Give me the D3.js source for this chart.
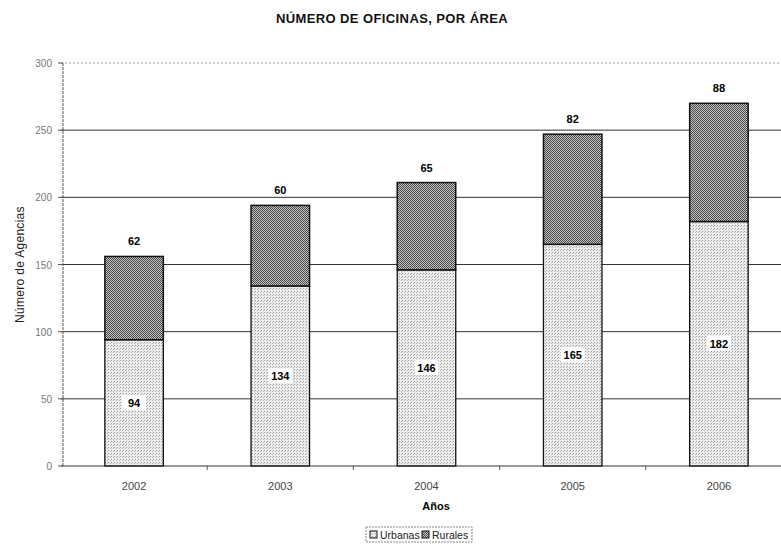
<!DOCTYPE html>
<html>
<head>
<meta charset="utf-8">
<script src="https://cdn.jsdelivr.net/npm/d3@7"></script>
<style>
  body { margin: 0; background: #fff; }
  text { font-family: "Liberation Sans", Arial, sans-serif; }
</style>
</head>
<body>
<div id="chart"></div>
<script>
let years = ["2002", "2003", "2004", "2005", "2006"];
let urbanas = [94, 134, 146, 165, 182];
let rurales = [62, 60, 65, 82, 88];
let yTicks = [0, 50, 100, 150, 200, 250, 300];

let w = 781, h = 545;
let plotLeft = 61, plotRight = 792, plotTop = 63, plotBottom = 466;

let svg = d3.select("#chart").append("svg")
    .attr("width", w)
    .attr("height", h);

// dithered fills like the scanned original
let defs = svg.append("defs");
let pr = defs.append("pattern").attr("id", "rur")
    .attr("width", 2).attr("height", 2).attr("patternUnits", "userSpaceOnUse");
pr.append("rect").attr("width", 2).attr("height", 2).attr("fill", "#c8c8c8");
pr.append("rect").attr("width", 1).attr("height", 1).attr("fill", "#444");
pr.append("rect").attr("x", 1).attr("y", 1).attr("width", 1).attr("height", 1).attr("fill", "#444");
let pu = defs.append("pattern").attr("id", "urb")
    .attr("width", 3).attr("height", 3).attr("patternUnits", "userSpaceOnUse");
pu.append("rect").attr("width", 3).attr("height", 3).attr("fill", "#eeeeee");
pu.append("rect").attr("width", 1).attr("height", 1).attr("fill", "#9a9a9a");
pu.append("rect").attr("x", 2).attr("y", 1).attr("width", 1).attr("height", 1).attr("fill", "#b5b5b5");

let xScale = d3.scaleBand()
    .domain(years)
    .range([plotLeft, plotRight])
    .paddingInner(0.6)
    .paddingOuter(0.3);
let yScale = d3.scaleLinear()
    .domain([0, 300])
    .range([plotBottom, plotTop]);

// gridlines
svg.append("g")
    .selectAll("line")
    .data(yTicks.slice(1))
    .enter()
    .append("line")
    .attr("x1", plotLeft)
    .attr("x2", w)
    .attr("y1", (d) => yScale(d))
    .attr("y2", (d) => yScale(d))
    .attr("stroke", (d) => d == 300 ? "#999" : "#333")
    .attr("stroke-dasharray", (d) => d == 300 ? "2,2" : null)
    .attr("stroke-width", 1);

let bars = svg.append("g");
bars.selectAll("rect.urb")
    .data(years)
    .enter()
    .append("rect")
    .attr("class", "urb")
    .attr("x", (d) => xScale(d))
    .attr("width", xScale.bandwidth())
    .attr("y", (d, i) => yScale(urbanas[i]))
    .attr("height", (d, i) => yScale(0) - yScale(urbanas[i]))
    .attr("fill", "url(#urb)")
    .attr("stroke", "#111")
    .attr("stroke-width", 1.3);
bars.selectAll("rect.rur")
    .data(years)
    .enter()
    .append("rect")
    .attr("class", "rur")
    .attr("x", (d) => xScale(d))
    .attr("width", xScale.bandwidth())
    .attr("y", (d, i) => yScale(urbanas[i] + rurales[i]))
    .attr("height", (d, i) => yScale(urbanas[i]) - yScale(urbanas[i] + rurales[i]))
    .attr("fill", "url(#rur)")
    .attr("stroke", "#111")
    .attr("stroke-width", 1.5);

// value labels
let cx = (d) => xScale(d) + xScale.bandwidth() / 2;
let lab = svg.append("g");
let urbLab = lab.selectAll("g.ul")
    .data(years)
    .enter()
    .append("g")
    .attr("transform", (d, i) => "translate(" + cx(d) + "," + yScale(urbanas[i] / 2) + ")");
urbLab.append("rect")
    .attr("x", -12).attr("y", -8).attr("width", 24).attr("height", 15)
    .attr("fill", "#fff");
urbLab.append("text")
    .attr("text-anchor", "middle")
    .attr("y", 4)
    .attr("font-size", 11)
    .attr("font-weight", "bold")
    .text((d, i) => urbanas[i]);
lab.selectAll("text.rl")
    .data(years)
    .enter()
    .append("text")
    .attr("x", cx)
    .attr("y", (d, i) => yScale(urbanas[i] + rurales[i]) - 11)
    .attr("text-anchor", "middle")
    .attr("font-size", 11)
    .attr("font-weight", "bold")
    .text((d, i) => rurales[i]);

// axes
svg.append("line")
    .attr("x1", plotLeft + 2).attr("x2", plotLeft + 2)
    .attr("y1", plotTop).attr("y2", plotBottom)
    .attr("stroke", "#555")
    .attr("stroke-dasharray", "3,1");
svg.append("line")
    .attr("x1", plotLeft).attr("x2", w)
    .attr("y1", plotBottom).attr("y2", plotBottom)
    .attr("stroke", "#333");
svg.append("g")
    .selectAll("line")
    .data(yTicks)
    .enter()
    .append("line")
    .attr("x1", plotLeft - 3).attr("x2", plotLeft + 2)
    .attr("y1", (d) => yScale(d)).attr("y2", (d) => yScale(d))
    .attr("stroke", "#555");
svg.append("g")
    .selectAll("line")
    .data(years.slice(1))
    .enter()
    .append("line")
    .attr("x1", (d) => xScale(d) - xScale.step() * xScale.paddingInner() / 2)
    .attr("x2", (d) => xScale(d) - xScale.step() * xScale.paddingInner() / 2)
    .attr("y1", plotBottom).attr("y2", plotBottom + 4)
    .attr("stroke", "#555");

svg.append("g")
    .selectAll("text")
    .data(yTicks)
    .enter()
    .append("text")
    .attr("x", plotLeft - 9)
    .attr("y", (d) => yScale(d) + 4)
    .attr("text-anchor", "end")
    .attr("font-size", 10)
    .attr("fill", "#777")
    .text((d) => d);
svg.append("g")
    .selectAll("text")
    .data(years)
    .enter()
    .append("text")
    .attr("x", cx)
    .attr("y", plotBottom + 24)
    .attr("text-anchor", "middle")
    .attr("font-size", 11)
    .attr("fill", "#444")
    .text((d) => d);

// titles
svg.append("text")
    .attr("x", 392).attr("y", 23)
    .attr("text-anchor", "middle")
    .attr("font-size", 13)
    .attr("font-weight", "bold")
    .attr("letter-spacing", 0.4)
    .attr("fill", "#111")
    .text("NÚMERO DE OFICINAS, POR ÁREA");
svg.append("text")
    .attr("x", 436).attr("y", 510)
    .attr("text-anchor", "middle")
    .attr("font-size", 11)
    .attr("font-weight", "bold")
    .text("Años");
svg.append("text")
    .attr("transform", "translate(24," + yScale(150) + ") rotate(-90)")
    .attr("text-anchor", "middle")
    .attr("font-size", 12)
    .attr("letter-spacing", 0.3)
    .attr("fill", "#222")
    .text("Número de Agencias");

// legend
let legend = svg.append("g").attr("transform", "translate(366,527)");
legend.append("rect")
    .attr("width", 106).attr("height", 15)
    .attr("fill", "none")
    .attr("stroke", "#888")
    .attr("stroke-dasharray", "2,1");
let items = [["Urbanas", "url(#urb)", 4], ["Rurales", "url(#rur)", 56]];
items.forEach(function(it) {
    legend.append("rect")
        .attr("x", it[2]).attr("y", 4)
        .attr("width", 7).attr("height", 7)
        .attr("fill", it[1])
        .attr("stroke", "#111");
    legend.append("text")
        .attr("x", it[2] + 10).attr("y", 11.5)
        .attr("font-size", 10.5)
        .attr("fill", "#222")
        .text(it[0]);
});
</script>
</body>
</html>
